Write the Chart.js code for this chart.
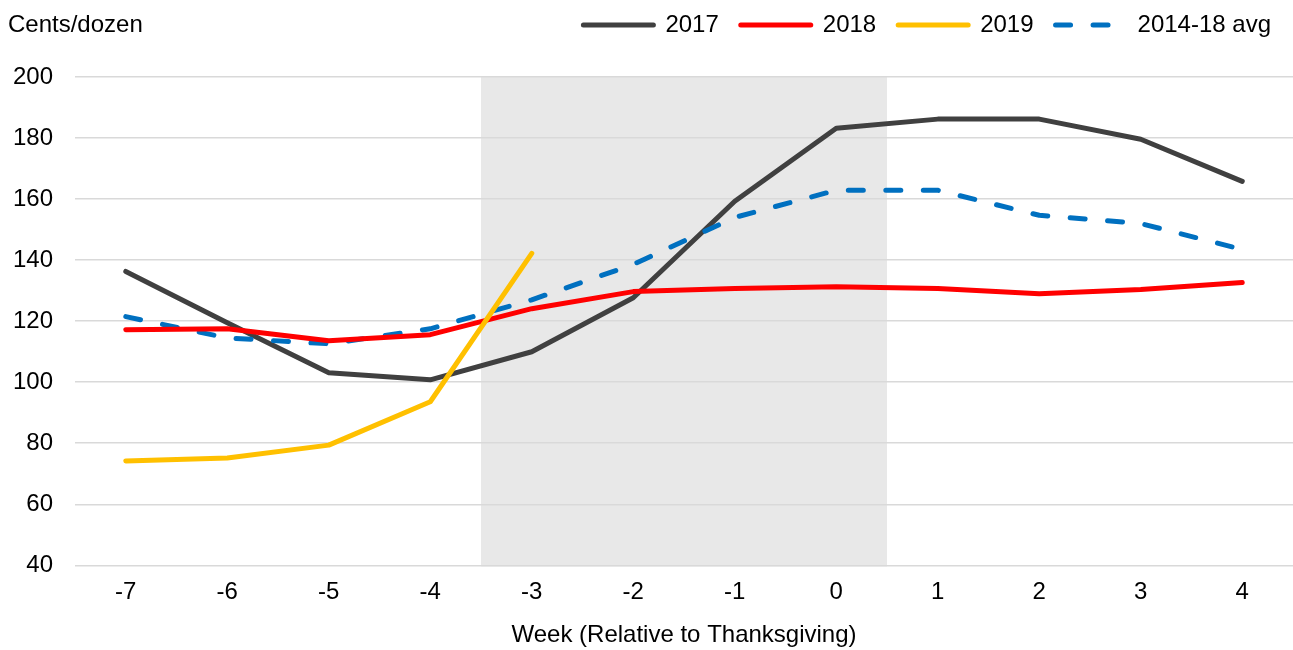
<!DOCTYPE html>
<html>
<head>
<meta charset="utf-8">
<script src="https://cdn.jsdelivr.net/npm/chart.js@4/dist/chart.umd.min.js"></script>
<style>
  html, body { margin: 0; padding: 0; background: #fff; }
  #wrap { width: 1293px; height: 650px; }
</style>
</head>
<body>
<div id="wrap"><canvas id="eggChart" width="1293" height="650"></canvas></div>
<script>
const weeks = ["-7", "-6", "-5", "-4", "-3", "-2", "-1", "0", "1", "2", "3", "4"];
const y2017 = [136.3, 119.5, 103.1, 100.8, 110, 127.7, 159.3, 183.2, 186.2, 186.2, 179.6, 165.8];
const y2018 = [117.2, 117.5, 113.6, 115.6, 124.1, 129.7, 130.7, 131.3, 130.7, 129, 130.4, 132.7];
const y2019 = [74.2, 75.2, 79.4, 93.6, 142.2];
const avg1418 = [121.5, 114.5, 112.6, 117.5, 127, 138.6, 154, 162.9, 162.9, 154.7, 152, 143.5];
// Thanksgiving window (weeks -3 to 0)
const shadeFrom = "-3";
const shadeTo = "0";

const font = "'Liberation Sans', Arial, sans-serif";

const shadePlugin = {
  id: "shade",
  beforeDraw(chart) {
    const { ctx, chartArea } = chart;
    const x = chart.scales.x;
    const half = (x.getPixelForValue(1) - x.getPixelForValue(0)) / 2;
    const left = x.getPixelForValue(weeks.indexOf(shadeFrom)) - half;
    const right = x.getPixelForValue(weeks.indexOf(shadeTo)) + half;
    ctx.save();
    ctx.fillStyle = "#e8e8e8";
    ctx.fillRect(left, chartArea.top, right - left, chartArea.bottom - chartArea.top + 1);
    ctx.restore();
  },
  afterDraw(chart) {
    const ctx = chart.ctx;
    ctx.save();
    ctx.font = "24px " + font;
    ctx.fillStyle = "#000";
    ctx.textAlign = "left";
    ctx.textBaseline = "middle";
    ctx.fillText("Cents/dozen", 8, 25);
    ctx.restore();
  }
};

const line = (label, data, color, order, dash) => ({
  label: label,
  data: data,
  borderColor: color,
  backgroundColor: color,
  borderWidth: 5,
  borderDash: dash || [],
  borderCapStyle: "round",
  borderJoinStyle: "round",
  pointRadius: 0,
  tension: 0,
  fill: false,
  order: order
});

new Chart(document.getElementById("eggChart"), {
  type: "line",
  data: {
    labels: weeks,
    datasets: [
      line("2017", y2017, "#404040", 4),
      line("2018", y2018, "#ff0000", 2),
      line("2019", y2019, "#ffc000", 1),
      line("2014-18 avg", avg1418, "#0070c0", 3, [15, 22.5])
    ]
  },
  options: {
    responsive: false,
    animation: false,
    layout: { padding: { top: -9, left: -9, right: 0, bottom: 0 } },
    plugins: {
      legend: {
        position: "top",
        align: "end",
        labels: {
          usePointStyle: true,
          pointStyle: "line",
          pointStyleWidth: 70,
          padding: 22,
          color: "#000",
          font: { family: font, size: 24 },
          generateLabels: (chart) => chart.data.datasets.map((ds, i) => ({
            text: ds.label,
            datasetIndex: i,
            fillStyle: ds.borderColor,
            strokeStyle: ds.borderColor,
            lineWidth: ds.borderWidth,
            lineDash: ds.borderDash,
            lineCap: "round",
            pointStyle: "line",
            fontColor: "#000",
            hidden: false
          }))
        }
      },
      subtitle: {
        display: true,
        text: "",
        weight: 500,
        font: { size: 24 },
        padding: { top: 0, bottom: 1.2 }
      },
      tooltip: { enabled: false }
    },
    scales: {
      x: {
        offset: true,
        grid: { display: false, drawTicks: false },
        border: { display: false },
        ticks: { color: "#000", font: { family: font, size: 24 }, padding: 13 },
        title: {
          display: true,
          text: "Week (Relative to Thanksgiving)",
          color: "#000",
          font: { family: font, size: 24 },
          padding: { top: 1, bottom: 0 }
        }
      },
      y: {
        min: 40,
        max: 200,
        grid: { color: "#d9d9d9", lineWidth: 1.6, drawTicks: false },
        border: { display: false },
        ticks: { stepSize: 20, color: "#000", font: { family: font, size: 24 }, padding: 22 }
      }
    }
  },
  plugins: [shadePlugin]
});
</script>
</body>
</html>
